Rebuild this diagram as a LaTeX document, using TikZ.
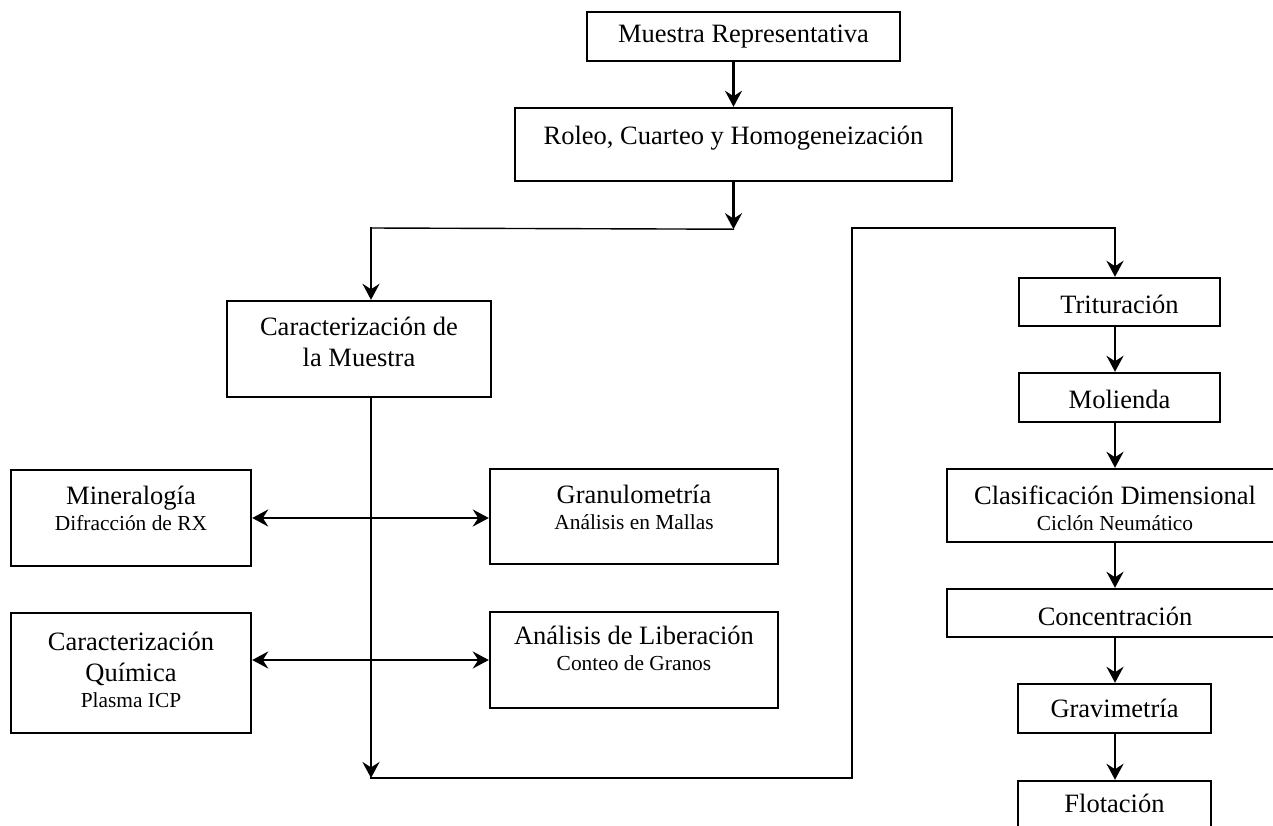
\documentclass[tikz,border=0pt]{standalone}
\usepackage{fontspec}
\setmainfont{Liberation Serif}
\usetikzlibrary{arrows.meta}
\newcommand{\bigtxt}{\fontsize{13.25pt}{15.5pt}\selectfont}
\newcommand{\smalltxt}{\fontsize{10.7pt}{13pt}\selectfont}
\tikzset{
  box/.style={draw, line width=1.2pt, inner sep=0pt},
  txt/.style={align=center, font=\bigtxt, inner sep=0pt},
  link/.style={line width=1.2pt},
  thinlink/.style={line width=0.7pt},
  >={Stealth[length=8pt,width=8.5pt,inset=2.7pt]}
}
\begin{document}
\begin{tikzpicture}[x=0.5pt, y=-0.5pt, line cap=rect]
  \useasboundingbox (0,0) rectangle (1273,825);
  % Top boxes
  \node[box, minimum width=156.5pt, minimum height=24.5pt] (mues) at (743.5,36.5) {};
  \node[txt] (mues-t) at (mues.center) {Muestra Representativa};
  \node[box, minimum width=218.5pt, minimum height=36.5pt] (rol) at (733.5,144.5) {};
  \node[txt] (rol-t) at ([yshift=3.4pt]rol.center) {Roleo, Cuarteo y Homogeneización};
  % Characterisation branch
  \node[box, minimum width=132pt, minimum height=48pt] (car) at (359,349) {};
  \node[txt] (car-t) at ([yshift=3.5pt]car.center) {Caracterización de\\la Muestra};
  \node[box, minimum width=120pt, minimum height=48pt] (min) at (131,518) {};
  \node[txt] (min-t) at ([yshift=5pt]min.center) {Mineralogía\\[-2.5pt]{\smalltxt Difracción de RX}};
  \node[box, minimum width=120pt, minimum height=60pt] (qui) at (131,673) {};
  \node[txt] (qui-t) at ([yshift=1.4pt]qui.center) {Caracterización\\Química\\[-2.5pt]{\smalltxt Plasma ICP}};
  \node[box, minimum width=144pt, minimum height=47.5pt] (gra) at (634,516.5) {};
  \node[txt] (gra-t) at ([yshift=4.8pt]gra.center) {Granulometría\\[-2.5pt]{\smalltxt Análisis en Mallas}};
  \node[box, minimum width=144pt, minimum height=48pt] (lib) at (634,660) {};
  \node[txt] (lib-t) at ([yshift=5.9pt]lib.center) {Análisis de Liberación\\[-2.5pt]{\smalltxt Conteo de Granos}};
  % Process column
  \node[box, minimum width=100.5pt, minimum height=24pt] (tri) at (1119.5,302) {};
  \node[txt] (tri-t) at ([yshift=-1pt]tri.center) {Trituración};
  \node[box, minimum width=100.5pt, minimum height=24.5pt] (mol) at (1119.5,397.5) {};
  \node[txt] (mol-t) at ([yshift=-1.2pt]mol.center) {Molienda};
  \node[box, minimum width=168pt, minimum height=36.5pt] (cla) at (1115,505.5) {};
  \node[txt] (cla-t) at ([yshift=-1.2pt]cla.center) {Clasificación Dimensional\\[-2.5pt]{\smalltxt Ciclón Neumático}};
  \node[box, minimum width=168pt, minimum height=24pt] (con) at (1115,613) {};
  \node[txt] (con-t) at ([yshift=-1.5pt]con.center) {Concentración};
  \node[box, minimum width=96.5pt, minimum height=24.5pt] (grv) at (1114.5,708.5) {};
  \node[txt] (grv-t) at (grv.center) {Gravimetría};
  \node[box, minimum width=96.5pt, minimum height=24.5pt] (flo) at (1114.5,805.5) {};
  \node[txt] (flo-t) at ([yshift=0.8pt]flo.center) {Flotación};
  % Turning points
  \path (rol.south) ++(0,47) coordinate (split);
  \coordinate (cartop) at (371,228);
  \coordinate (low) at (371,778);
  \coordinate (turn1) at (852,778);
  \coordinate (turn2) at (852,228);
  \coordinate (rx) at (1115,228);
  % Connectors
  \draw[link, ->] (mues.south -| rol.north) -- (rol.north);
  \draw[link, ->] (rol.south) -- (split);
  \draw[thinlink] (split) -- (cartop);
  \draw[link, ->] (cartop) -- (cartop |- car.north);
  \draw[link, ->] (car.south -| low) -- (low);
  \draw[link, <->] (min.east) -- (min.east -| gra.west);
  \draw[link, <->] (qui.east |- lib.west) -- (lib.west);
  \draw[thinlink] (low) -- (turn1);
  \draw[link] (turn1) -- (turn2);
  \draw[thinlink] (turn2) -- (rx);
  \draw[link, ->] (rx) -- (rx |- tri.north);
  \draw[link, ->] (tri.south -| rx) -- (mol.north -| rx);
  \draw[link, ->] (mol.south -| rx) -- (cla.north -| rx);
  \draw[link, ->] (cla.south -| rx) -- (con.north -| rx);
  \draw[link, ->] (con.south -| rx) -- (grv.north -| rx);
  \draw[link, ->] (grv.south -| rx) -- (flo.north -| rx);
\end{tikzpicture}
\end{document}
